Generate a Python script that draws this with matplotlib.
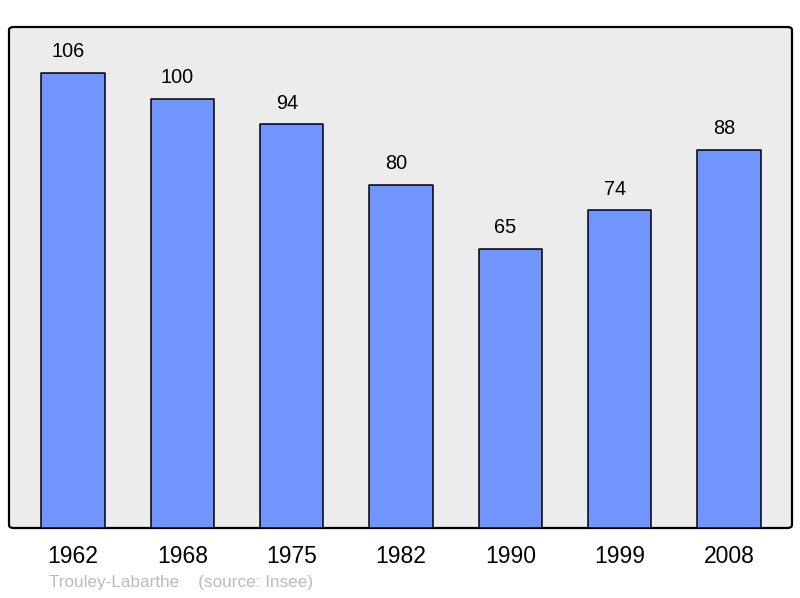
import matplotlib.pyplot as plt
from matplotlib.patches import FancyBboxPatch

# population data
years = ['1962', '1968', '1975', '1982', '1990', '1999', '2008']
population = [106, 100, 94, 80, 65, 74, 88]

plt.rcParams['font.family'] = ['Liberation Sans', 'DejaVu Sans']

fig = plt.figure(figsize=(8, 5.98), dpi=100)
ax = fig.add_axes([9 / 800, 1 - 528 / 598, 783 / 800, 501 / 598])

x = range(len(years))
ax.bar(x, population, width=0.578, color='#7095ff', edgecolor='black',
       linewidth=1.1, joinstyle='round', zorder=2)

for xi, v in zip(x, population):
    ax.annotate(str(v), (xi, v), xytext=(-3.5, 8.5), textcoords='offset points',
                ha='center', va='bottom', fontsize=14.3)

ax.set_xlim(-0.585, 6.576)
ax.set_ylim(0, 116.7)
ax.set_facecolor('none')
for s in ax.spines.values():
    s.set_visible(False)

# frame with rounded corners
frame = FancyBboxPatch((0, 0), 1, 1, boxstyle='round,pad=0,rounding_size=0.006',
                       transform=ax.transAxes, facecolor='#ececec',
                       edgecolor='black', linewidth=1.6, zorder=0, clip_on=False)
ax.add_patch(frame)

ax.set_xticks(list(x))
ax.set_xticklabels(years, fontsize=16.5)
ax.tick_params(axis='x', length=0, pad=12)
ax.set_yticks([])

fig.text(49 / 800, 1 - 583 / 598, 'Trouley-Labarthe    (source: Insee)',
         fontsize=12.3, color='#bbbbbb', va='center', ha='left')

plt.savefig('out.png', dpi=100)
